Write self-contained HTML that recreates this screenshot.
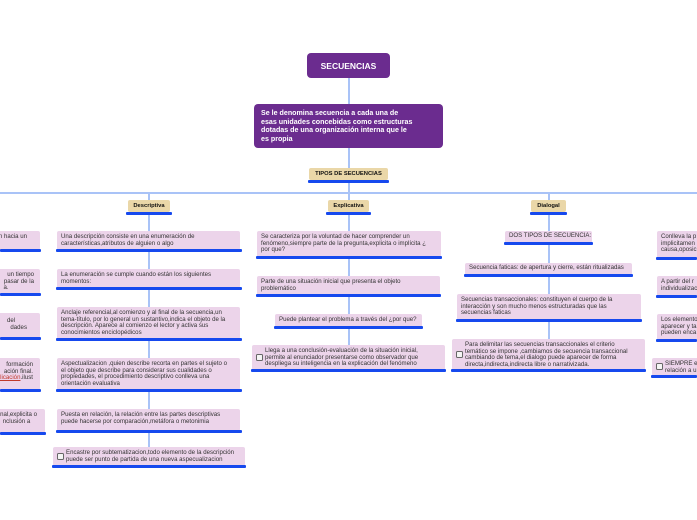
<!DOCTYPE html>
<html><head><meta charset="utf-8"><style>
html,body{margin:0;padding:0;background:#fff;width:697px;height:520px;overflow:hidden;position:relative;font-family:"Liberation Sans",sans-serif}
.ln{position:absolute;background:#a9c3f7}
.b{position:absolute;background:#ecd4ea;border-radius:2px;font-size:6.1px;line-height:6.7px;color:#333;padding:3px 4px;box-sizing:border-box;overflow:hidden;white-space:nowrap}
.r{text-align:right;padding-right:13px}
.u{position:absolute;height:3px;background:#1649ee;border-radius:1px}
.t{position:absolute;background:#ead7a8;font-size:5.8px;font-weight:bold;color:#111;text-align:center;line-height:12px;border-radius:2px}
.cb{display:inline-block;width:5px;height:5px;border:1px solid #666;border-radius:1.5px;background:#f5f5f5}
.cw{position:absolute;left:4px;top:50%;margin-top:-4px}
</style></head><body>
<div class="ln" style="left:348px;top:78px;width:2px;height:115px"></div>
<div class="ln" style="left:0;top:192px;width:697px;height:2px"></div>
<div class="ln" style="left:148px;top:193px;width:2px;height:262px"></div>
<div class="ln" style="left:348px;top:193px;width:2px;height:165px"></div>
<div class="ln" style="left:548px;top:193px;width:2px;height:160px"></div>

<div style="position:absolute;left:307px;top:53px;width:83px;height:25px;background:#6b2c8f;border-radius:4px;color:#fff;font-weight:bold;font-size:8.5px;text-align:center;line-height:26px">SECUENCIAS</div>
<div style="position:absolute;left:254px;top:104px;width:189px;height:44px;background:#6b2c8f;border-radius:4px;color:#fff;font-weight:bold;font-size:7.1px;line-height:8.7px;padding:5px 7px;box-sizing:border-box;white-space:nowrap">Se le denomina secuencia a cada una de<br>esas unidades concebidas como estructuras<br>dotadas de una organización interna que le<br>es propia</div>

<div class="t" style="left:309px;top:168px;width:79px">TIPOS DE SECUENCIAS</div><div class="u" style="left:308px;top:180px;width:81px"></div>
<div class="t" style="left:128px;top:200px;width:42px">Descriptiva</div><div class="u" style="left:126px;top:212px;width:46px"></div>
<div class="t" style="left:328px;top:200px;width:41px">Explicativa</div><div class="u" style="left:326px;top:212px;width:45px"></div>
<div class="t" style="left:531px;top:200px;width:35px">Dialogal</div><div class="u" style="left:530px;top:212px;width:37px"></div>

<!-- left partial -->
<div class="b r" style="left:-60px;top:231px;width:100px;height:19px">n hacia un</div><div class="u" style="left:0;top:249px;width:41px"></div>
<div class="b r" style="left:-60px;top:269px;width:100px;height:25px;padding-right:6px">un tiempo<br>pasar de la<br>a.&nbsp;&nbsp;&nbsp;&nbsp;&nbsp;&nbsp;&nbsp;&nbsp;&nbsp;&nbsp;&nbsp;&nbsp;&nbsp;&nbsp;&nbsp;</div><div class="u" style="left:0;top:293px;width:41px"></div>
<div class="b r" style="left:-60px;top:313px;width:100px;height:25px;padding-top:5px">del&nbsp;&nbsp;&nbsp;&nbsp;&nbsp;&nbsp;&nbsp;<br>dades</div><div class="u" style="left:0;top:337px;width:41px"></div>
<div class="b r" style="left:-60px;top:358px;width:100px;height:32px;padding-top:4px;padding-right:7px">formación<br>ación final.<br><span style="color:#c0392b;text-decoration:underline">plicación</span>.ilust</div><div class="u" style="left:0;top:389px;width:41px"></div>
<div class="b r" style="left:-60px;top:409px;width:105px;height:24px;padding-right:8px">nal,explicita o<br>nclusión a&nbsp;&nbsp;&nbsp;&nbsp;</div><div class="u" style="left:0;top:432px;width:46px"></div>

<!-- descriptiva -->
<div class="b" style="left:57px;top:231px;width:183px;height:19px">Una descripción consiste en una enumeración de<br>características,atributos de alguien o algo</div><div class="u" style="left:56px;top:249px;width:186px"></div>
<div class="b" style="left:57px;top:269px;width:183px;height:19px">La enumeración se cumple cuando están los siguientes<br>momentos:</div><div class="u" style="left:56px;top:287px;width:186px"></div>
<div class="b" style="left:57px;top:307px;width:183px;height:32px">Anclaje referencial,al comienzo y al final de la secuencia,un<br>tema-título, por lo general un sustantivo,indica el objeto de la<br>descripción. Aparece al comienzo el lector y activa sus<br>conocimientos enciclopédicos</div><div class="u" style="left:56px;top:338px;width:186px"></div>
<div class="b" style="left:57px;top:358px;width:183px;height:32px">Aspectualizacion ,quien describe recorta en partes el sujeto o<br>el objeto que describe para considerar sus cualidades o<br>propiedades, el procedimiento descriptivo conlleva una<br>orientación evaluativa</div><div class="u" style="left:56px;top:389px;width:186px"></div>
<div class="b" style="left:57px;top:409px;width:183px;height:22px">Puesta en relación, la relación entre las partes descriptivas<br>puede hacerse por comparación,metáfora o metonimia</div><div class="u" style="left:56px;top:430px;width:186px"></div>
<div class="b" style="left:53px;top:447px;width:192px;height:19px;padding-left:13px"><span class="cb cw"></span>Encastre por subtematizacion,todo elemento de la descripción<br>puede ser punto de partida de una nueva aspecualizacion</div><div class="u" style="left:52px;top:465px;width:194px"></div>

<!-- explicativa -->
<div class="b" style="left:257px;top:231px;width:184px;height:26px">Se caracteriza por la voluntad de hacer comprender un<br>fenómeno,siempre parte de la pregunta,explicita o implícita ¿<br>por que?</div><div class="u" style="left:256px;top:256px;width:186px"></div>
<div class="b" style="left:257px;top:276px;width:183px;height:19px">Parte de una situación inicial que presenta el objeto<br>problemático</div><div class="u" style="left:256px;top:294px;width:185px"></div>
<div class="b" style="left:275px;top:314px;width:147px;height:13px">Puede plantear el problema a través del ¿por que?</div><div class="u" style="left:274px;top:326px;width:149px"></div>
<div class="b" style="left:252px;top:345px;width:193px;height:25px;padding-left:13px"><span class="cb cw"></span>Llega a una conclusión-evaluación de la situación inicial,<br>permite al enunciador presentarse como observador que<br>despliega su inteligencia en la explicación del fenómeno</div><div class="u" style="left:251px;top:369px;width:195px"></div>

<!-- dialogal -->
<div class="b" style="left:505px;top:231px;width:87px;height:12px;padding-top:2px">DOS TIPOS DE SECUENCIA:</div><div class="u" style="left:504px;top:242px;width:89px"></div>
<div class="b" style="left:465px;top:263px;width:167px;height:12px;padding-top:2px">Secuencia faticas: de apertura y cierre, están ritualizadas</div><div class="u" style="left:464px;top:274px;width:169px"></div>
<div class="b" style="left:457px;top:294px;width:184px;height:26px">Secuencias transaccionales: constituyen el cuerpo de la<br>interacción y son mucho menos estructuradas que las<br>secuencias faticas</div><div class="u" style="left:456px;top:319px;width:186px"></div>
<div class="b" style="left:452px;top:339px;width:193px;height:31px;padding-left:13px;padding-top:3px"><span class="cb cw"></span>Para delimitar las secuencias transaccionales el criterio<br>temático se impone ,cambiamos de secuencia transaccional<br>cambiando de tema,el dialogo puede aparecer de forma<br>directa,indirecta,indirecta libre o narrativizada.</div><div class="u" style="left:451px;top:369px;width:195px"></div>

<!-- right partial -->
<div class="b" style="left:657px;top:231px;width:60px;height:27px">Conlleva la p<br>implicitamen<br>causa,oposic</div><div class="u" style="left:656px;top:257px;width:41px"></div>
<div class="b" style="left:657px;top:276px;width:60px;height:20px">A partir del r<br>individualizac</div><div class="u" style="left:656px;top:295px;width:41px"></div>
<div class="b" style="left:657px;top:314px;width:60px;height:26px">Los elemento<br>aparecer y ta<br>pueden enca</div><div class="u" style="left:656px;top:339px;width:41px"></div>
<div class="b" style="left:652px;top:358px;width:65px;height:18px;padding-left:13px"><span class="cb cw"></span>SIEMPRE e<br>relación a u</div><div class="u" style="left:651px;top:375px;width:46px"></div>
</body></html>
